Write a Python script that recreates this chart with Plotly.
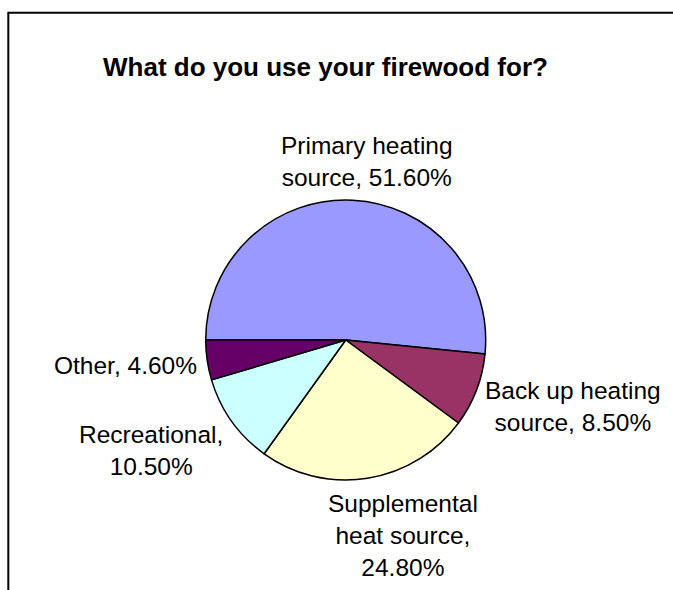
import textwrap
import plotly.graph_objects as go

# ---- data ----
categories = ["Primary heating source", "Back up heating source",
              "Supplemental heat source", "Recreational", "Other"]
values = [51.6, 8.5, 24.8, 10.5, 4.6]
colors = ["#9999FF", "#993366", "#FFFFCC", "#CCFFFF", "#660066"]
title_text = "What do you use your firewood for?"

W, H = 673, 590


def px(x):
    return x / W


def py(y):
    return 1 - y / H


# pie geometry (pixels)
cx, cy, r = 345.7, 340.0, 140.0

fig = go.Figure(go.Pie(
    labels=categories,
    values=values,
    sort=False,
    direction="clockwise",
    rotation=270,
    marker=dict(colors=colors, line=dict(color="black", width=1.5)),
    textinfo="none",
    hoverinfo="label+percent",
    showlegend=False,
    domain=dict(x=[px(cx - r), px(cx + r)], y=[py(cy + r), py(cy - r)]),
))

# label anchor points (pixels, center of text block)
label_pos = [(367, 161), (573, 406), (403, 535), (151, 450), (125, 365)]
annotations = []
for cat, v, (lx, ly) in zip(categories, values, label_pos):
    txt = "<br>".join(textwrap.wrap(f"{cat}, {v:.2f}%", 15))
    annotations.append(dict(
        x=px(lx), y=py(ly), xref="paper", yref="paper",
        xanchor="center", yanchor="middle", showarrow=False,
        text=txt, align="center",
        font=dict(family="Liberation Sans, Arial", size=24.5, color="black"),
    ))
annotations.append(dict(
    x=px(325.5), y=py(66.6), xref="paper", yref="paper",
    xanchor="center", yanchor="middle", showarrow=False,
    text=f"<b>{title_text}</b>",
    font=dict(family="Liberation Sans, Arial", size=26, color="black"),
))

shapes = [
    dict(type="line", xref="paper", yref="paper",
         x0=px(7.5), y0=py(12.8), x1=1.0, y1=py(12.8),
         line=dict(color="black", width=2)),
    dict(type="line", xref="paper", yref="paper",
         x0=px(8.3), y0=py(12.8), x1=px(8.3), y1=0.0,
         line=dict(color="black", width=2)),
]

fig.update_layout(
    width=W, height=H,
    margin=dict(l=0, r=0, t=0, b=0),
    paper_bgcolor="white", plot_bgcolor="white",
    annotations=annotations, shapes=shapes,
    font=dict(family="Liberation Sans, Arial"),
)

fig.write_html(
    "out.html",
    config={"displayModeBar": False},
    post_script="document.body.style.margin='0';document.body.style.overflow='hidden';",
)
